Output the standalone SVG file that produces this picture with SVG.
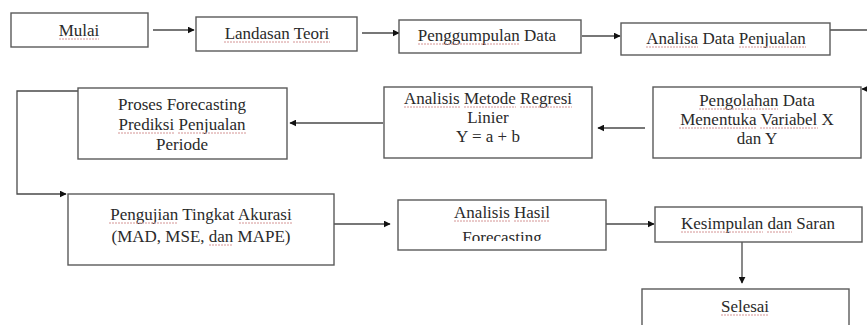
<svg xmlns="http://www.w3.org/2000/svg" width="867" height="325" viewBox="0 0 867 325">
  <style>
    .box { fill: #ffffff; stroke: #5a5a5a; stroke-width: 1.4; }
    .lbl { font-family: "Liberation Serif", "Times New Roman", serif; font-size: 17px; fill: #2a2a2a; text-anchor: middle; }
    .sq { fill: none; stroke: #d49494; stroke-width: 1; stroke-dasharray: 2 1; }
    .edge { fill: none; stroke: #4a4a4a; stroke-width: 1.3; }
  </style>
  <defs>
    <marker id="arr" viewBox="0 0 10 10" refX="9" refY="5" markerWidth="7" markerHeight="7" markerUnits="userSpaceOnUse" orient="auto">
      <path d="M0,0 L10,5 L0,10 z" fill="#111111"/>
    </marker>
    <clipPath id="clipHasil">
      <rect x="398" y="200" width="208" height="41"/>
    </clipPath>
  </defs>
  <rect width="867" height="325" fill="#ffffff"/>

  <!-- connectors -->
  <g id="connectors">
    <line class="edge" x1="153" y1="30" x2="194" y2="30" marker-end="url(#arr)"/>
    <line class="edge" x1="362" y1="33" x2="399" y2="33" marker-end="url(#arr)"/>
    <line class="edge" x1="582" y1="36" x2="620" y2="36" marker-end="url(#arr)"/>
    <line class="edge" x1="830" y1="30" x2="867" y2="30"/>
    <line class="edge" x1="867" y1="89" x2="862" y2="89" marker-end="url(#arr)"/>
    <line class="edge" x1="645" y1="128" x2="598" y2="128" marker-end="url(#arr)"/>
    <line class="edge" x1="383" y1="123" x2="290" y2="123" marker-end="url(#arr)"/>
    <polyline class="edge" points="78,91 17,91 17,194 66,194" marker-end="url(#arr)"/>
    <line class="edge" x1="334" y1="224" x2="390" y2="224" marker-end="url(#arr)"/>
    <line class="edge" x1="600" y1="224" x2="654" y2="224" marker-end="url(#arr)"/>
    <line class="edge" x1="742" y1="242" x2="742" y2="283" marker-end="url(#arr)"/>
  </g>

  <g id="mulai">
    <rect class="box" x="11" y="13" width="137" height="34"/>
    <text class="lbl" x="79" y="36"><tspan>Mulai</tspan></text>
    <path class="sq" d="M59,39 H99"/>
  </g>

  <g id="landasan-teori">
    <rect class="box" x="196" y="17" width="161" height="34"/>
    <text class="lbl" x="277" y="39"><tspan>Landasan</tspan> <tspan>Teori</tspan></text>
    <path class="sq" d="M224,42 H289 M293,42 H330"/>
  </g>

  <g id="pengumpulan-data">
    <rect class="box" x="399" y="20" width="182" height="33"/>
    <text class="lbl" x="487" y="41"><tspan>Penggumpulan</tspan> Data</text>
    <path class="sq" d="M418,44 H520"/>
  </g>

  <g id="analisa-data">
    <rect class="box" x="621" y="23" width="209" height="32"/>
    <text class="lbl" x="726" y="44"><tspan>Analisa</tspan> Data <tspan>Penjualan</tspan></text>
    <path class="sq" d="M646,47 H698 M739,47 H806"/>
  </g>

  <g id="pengolahan-data">
    <rect class="box" x="653" y="87" width="208" height="71"/>
    <text class="lbl" x="757" y="106"><tspan>Pengolahan</tspan> Data</text>
    <text class="lbl" x="757" y="125"><tspan>Menentuka</tspan> <tspan>Variabel</tspan> X</text>
    <text class="lbl" x="757" y="144">dan Y</text>
    <path class="sq" d="M699,109 H778 M679,128 H756 M760,128 H818"/>
  </g>

  <g id="analisis-regresi">
    <rect class="box" x="384" y="87" width="208" height="71"/>
    <text class="lbl" x="488" y="104"><tspan>Analisis</tspan> <tspan>Metode</tspan> <tspan>Regresi</tspan></text>
    <text class="lbl" x="488" y="123">Linier</text>
    <text class="lbl" x="488" y="142">Y = a + b</text>
    <path class="sq" d="M404,107 H460 M464,107 H516 M520,107 H572"/>
  </g>

  <g id="proses-forecasting">
    <rect class="box" x="78" y="88" width="209" height="71"/>
    <text class="lbl" x="182" y="110">Proses Forecasting</text>
    <text class="lbl" x="182" y="130"><tspan>Prediksi</tspan> <tspan>Penjualan</tspan></text>
    <text class="lbl" x="182" y="150">Periode</text>
    <path class="sq" d="M118,133 H174 M178,133 H246"/>
  </g>

  <g id="pengujian-akurasi">
    <rect class="box" x="68" y="194" width="266" height="71"/>
    <text class="lbl" x="201" y="220"><tspan>Pengujian</tspan> Tingkat <tspan>Akurasi</tspan></text>
    <text class="lbl" x="201" y="242">(MAD, MSE, <tspan>dan</tspan> MAPE)</text>
    <path class="sq" d="M109,223 H177 M239,223 H293 M209,245 H233"/>
  </g>

  <g id="analisis-hasil">
    <rect class="box" x="398" y="200" width="208" height="50"/>
    <text class="lbl" x="502" y="218"><tspan>Analisis</tspan> <tspan>Hasil</tspan></text>
    <text class="lbl" x="502" y="243" clip-path="url(#clipHasil)">Forecasting</text>
    <path class="sq" d="M454,221 H510 M514,221 H550"/>
  </g>

  <g id="kesimpulan-saran">
    <rect class="box" x="655" y="207" width="207" height="35"/>
    <text class="lbl" x="758" y="229"><tspan>Kesimpulan</tspan> <tspan>dan</tspan> Saran</text>
    <path class="sq" d="M681,232 H763 M767,232 H792"/>
  </g>

  <g id="selesai">
    <rect class="box" x="642" y="289" width="207" height="50"/>
    <text class="lbl" x="745" y="312"><tspan>Selesai</tspan></text>
    <path class="sq" d="M721,315 H769"/>
  </g>
</svg>
